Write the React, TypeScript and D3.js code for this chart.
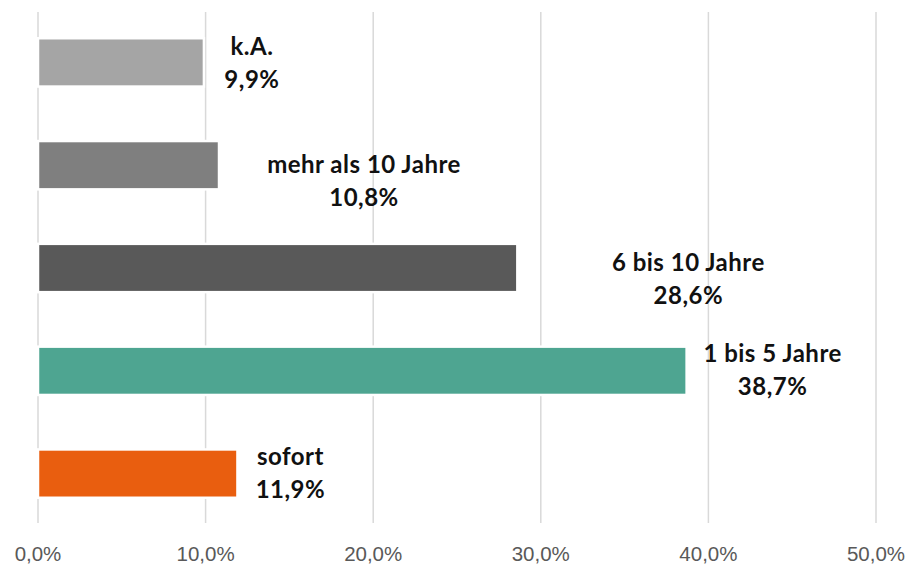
import * as d3 from 'd3';

const categories = ['k.A.', 'mehr als 10 Jahre', '6 bis 10 Jahre', '1 bis 5 Jahre', 'sofort'];
const values = [9.9, 10.8, 28.6, 38.7, 11.9];
const barColors = ['#a5a5a5', '#7f7f7f', '#595959', '#4ea591', '#e95e0f'];
const ticks = [0, 10, 20, 30, 40, 50];
// label placement relative to bar end / bar center
const labelDx = [48, 145, 171, 86, 53];
const labelDy = [-7.5, 7.5, 3, -9, -8.5];

const width = 911;
const height = 567;

const fmt = (v: number) => v.toFixed(1).replace('.', ',') + '%';

export default function App() {
  const x = d3.scaleLinear([0, 50], [38, 876]);
  const y = d3.scaleBand(categories, [11, 525]).paddingInner(0.53).paddingOuter(0.265);

  return (
    <svg
      width={width}
      height={height}
      style={{ position: 'absolute', left: 0, top: 0, background: '#fff' }}
    >
      {ticks.map((t) => (
        <g key={t}>
          <line x1={x(t)} x2={x(t)} y1={12} y2={523} stroke='#d9d9d9' strokeWidth={1.5} />
          <text
            x={x(t)}
            y={561}
            textAnchor='middle'
            fontFamily='Liberation Sans, Arial, sans-serif'
            fontSize={20.5}
            fill='#595959'
          >
            {fmt(t)}
          </text>
        </g>
      ))}
      {categories.map((c, i) => {
        const y0 = y(c)!;
        const cy = y0 + y.bandwidth() / 2;
        const lx = x(values[i]) + labelDx[i];
        return (
          <g key={c}>
            <rect
              x={x(0)}
              y={y0}
              width={x(values[i]) - x(0)}
              height={y.bandwidth()}
              fill={barColors[i]}
              stroke='#fff'
              strokeWidth={2.5}
            />
            <text
              x={lx}
              y={cy + labelDy[i]}
              textAnchor='middle'
              fontFamily='Lato, Nunito, sans-serif'
              fontWeight={700}
              fontSize={24}
              letterSpacing={0.5}
              fill='#111'
            >
              <tspan x={lx}>{c}</tspan>
              <tspan x={lx} dy={33}>
                {fmt(values[i])}
              </tspan>
            </text>
          </g>
        );
      })}
    </svg>
  );
}
